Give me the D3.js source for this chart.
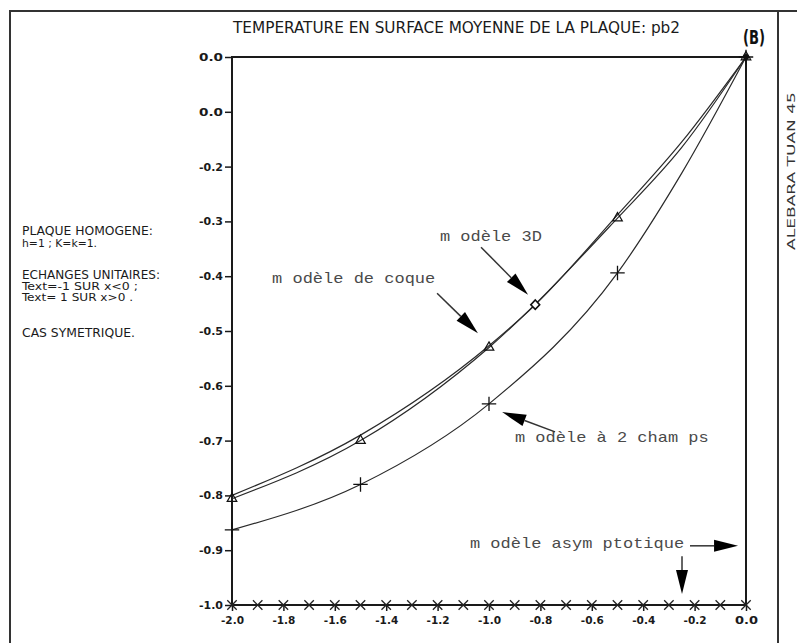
<!DOCTYPE html>
<html><head><meta charset="utf-8">
<script src="https://cdn.jsdelivr.net/npm/d3@7"></script>
<style>
html,body{margin:0;padding:0;background:#fff;}
svg{display:block;}
</style></head>
<body>
<script>
// ---------- data ----------
const title = "TEMPERATURE EN SURFACE MOYENNE DE LA PLAQUE: pb2";
const xTicks = [-2.0,-1.8,-1.6,-1.4,-1.2,-1.0,-0.8,-0.6,-0.4,-0.2,0.0];
const xTickLabels = ["-2.0","-1.8","-1.6","-1.4","-1.2","-1.0","-0.8","-0.6","-0.4","-0.2","0.0"];
const yTicks = [0.0,-0.1,-0.2,-0.3,-0.4,-0.5,-0.6,-0.7,-0.8,-0.9,-1.0];
const yTickLabels = ["0.0","0.0","-0.2","-0.3","-0.4","-0.5","-0.6","-0.7","-0.8","-0.9","-1.0"];

const x3D    = [-2.0, -1.5, -1.0, -0.82, -0.5, -0.25, 0.0];
const y3D    = [-0.800, -0.690, -0.527, -0.452, -0.288, -0.155, 0.0];
const marks3D = [-0.82];

const xCoque = [-2.0, -1.5, -1.0, -0.5, -0.25, 0.0];
const yCoque = [-0.806, -0.700, -0.530, -0.294, -0.165, 0.0];
const marksCoque = [-2.0, -1.5, -1.0, -0.5, 0.0];

const x2ch   = [-2.0, -1.5, -1.0, -0.5, -0.25, 0.0];
const y2ch   = [-0.863, -0.780, -0.633, -0.394, -0.212, 0.0];
const marks2ch = [-2.0, -1.5, -1.0, -0.5, 0.0];

const xAsym = [-2.0,-1.9,-1.8,-1.7,-1.6,-1.5,-1.4,-1.3,-1.2,-1.1,-1.0,-0.9,-0.8,-0.7,-0.6,-0.5,-0.4,-0.3,-0.2,-0.1,0.0];
const yAsym = [-1.0,-1.0,-1.0,-1.0,-1.0,-1.0,-1.0,-1.0,-1.0,-1.0,-1.0,-1.0,-1.0,-1.0,-1.0,-1.0,-1.0,-1.0,-1.0,-1.0,-1.0];

const noteTexts = ["m odèle 3D","m odèle de coque","m odèle à 2 cham ps","m odèle asym ptotique"];
const noteX = [-1.191, -1.844, -0.899, -1.074];
const noteY = [-0.336, -0.412, -0.703, -0.896];
// arrows: tail (x,y) -> tip (x,y) in data units
const arrowTail = [[-1.031,-0.347],[-1.202,-0.431],[-0.743,-0.684],[-0.218,-0.892],[-0.249,-0.911]];
const arrowTip  = [[-0.848,-0.434],[-1.043,-0.504],[-0.949,-0.648],[-0.031,-0.892],[-0.249,-0.980]];

const sideLines = ["PLAQUE HOMOGENE:","h=1 ; K=k=1.","ECHANGES UNITAIRES:","Text=-1 SUR x<0 ;","Text= 1 SUR x>0 .","CAS SYMETRIQUE."];
const sideBase = [235,247,279,290,301,337];
const sideW = [131,75,138,116,111,113];
const sideSize = [13,10,13,10,10,13];

// ---------- drawing ----------
const W=797,H=643;
const svg = d3.select("body").append("svg").attr("width",W).attr("height",H);
const x = d3.scaleLinear().domain([-2,0]).range([232,746]);
const y = d3.scaleLinear().domain([0,-1]).range([57,605]);
const narrow = "'Liberation Sans Narrow','DejaVu Sans Condensed','Arial Narrow',sans-serif";
const ink = "#1a1a1a";

// outer frame
svg.append("path").attr("d","M10,643 V11 H797 M778,11 V643")
  .attr("fill","none").attr("stroke","#333").attr("stroke-width",2);

// title
svg.append("text").attr("x",233).attr("y",33).text(title)
  .attr("font-family",narrow).attr("font-size",16).attr("fill",ink)
  .attr("textLength",447).attr("lengthAdjust","spacingAndGlyphs");

// symbol in corner
svg.append("text").attr("x",754).attr("y",44).attr("text-anchor","middle").text("(B)")
  .attr("font-family","'DejaVu Sans',sans-serif").attr("font-weight","bold").attr("font-size",20)
  .attr("fill","#111").attr("textLength",22).attr("lengthAdjust","spacingAndGlyphs");

// side rotated text
svg.append("text").attr("transform","translate(795,250) rotate(-90)").text("ALEBARA  TUAN  45")
  .attr("font-family",narrow).attr("font-size",10).attr("fill","#333")
  .attr("textLength",158).attr("lengthAdjust","spacingAndGlyphs");

// left description
svg.selectAll("text.side").data(sideLines).join("text").attr("class","side")
  .attr("x",22).attr("y",(d,i)=>sideBase[i]).text(d=>d)
  .attr("font-family",narrow).attr("font-size",(d,i)=>sideSize[i]).attr("fill",ink)
  .attr("textLength",(d,i)=>sideW[i]).attr("lengthAdjust","spacingAndGlyphs");

// plot box
svg.append("rect").attr("x",x(-2)).attr("y",y(0)).attr("width",x(0)-x(-2)).attr("height",y(-1)-y(0))
  .attr("fill","none").attr("stroke",ink).attr("stroke-width",2);

// axes
const gy = svg.append("g").attr("transform",`translate(${x(-2)},0)`)
  .call(d3.axisLeft(y).tickValues(yTicks).tickFormat((d,i)=>yTickLabels[i]).tickSize(7).tickPadding(2));
gy.select(".domain").remove();
gy.selectAll("line").attr("stroke",ink).attr("stroke-width",1.5);
gy.selectAll("text").attr("font-family",narrow).attr("font-weight","bold").attr("font-size",11).attr("fill",ink)
  .attr("textLength",24).attr("lengthAdjust","spacingAndGlyphs");

const gx = svg.append("g").attr("transform",`translate(0,${y(-1)})`)
  .call(d3.axisBottom(x).tickValues(xTicks).tickFormat((d,i)=>xTickLabels[i]).tickSize(6).tickPadding(5));
gx.select(".domain").remove();
gx.selectAll("line").attr("stroke",ink).attr("stroke-width",1.5);
gx.selectAll("text").attr("font-family",narrow).attr("font-weight","bold").attr("font-size",11).attr("fill",ink)
  .attr("textLength",23).attr("lengthAdjust","spacingAndGlyphs");

// curves
const line = d3.line().x(d=>x(d[0])).y(d=>y(d[1])).curve(d3.curveMonotoneX);
const series = [
  {xs:x3D, ys:y3D},
  {xs:xCoque, ys:yCoque},
  {xs:x2ch, ys:y2ch}
];
svg.selectAll("path.curve").data(series).join("path").attr("class","curve")
  .attr("d",s=>line(s.xs.map((v,i)=>[v,s.ys[i]])))
  .attr("fill","none").attr("stroke","#2a2a2a").attr("stroke-width",1.2);

function valAt(xs,ys,v){const i=xs.indexOf(v);return ys[i];}

// markers: coque triangles
svg.selectAll("path.tri").data(marksCoque).join("path").attr("class","tri")
  .attr("transform",d=>`translate(${x(d)},${y(valAt(xCoque,yCoque,d))})`)
  .attr("d",d3.symbol(d3.symbolTriangle,40)())
  .attr("fill","none").attr("stroke","#111").attr("stroke-width",1.2);

// 3D diamond
svg.selectAll("path.dia").data(marks3D).join("path").attr("class","dia")
  .attr("transform",d=>`translate(${x(d)},${y(valAt(x3D,y3D,d))}) scale(1.3,0.8)`)
  .attr("d",d3.symbol(d3.symbolDiamond,40)())
  .attr("fill","#fff").attr("stroke","#111").attr("stroke-width",1.5);

// 2 champs plus
const plusSym = d3.symbolPlus || d3.symbolCross;
svg.selectAll("path.plus").data(marks2ch).join("path").attr("class","plus")
  .attr("transform",d=>`translate(${x(d)},${y(valAt(x2ch,y2ch,d))})`)
  .attr("d",d3.symbol(plusSym,70)())
  .attr("fill","none").attr("stroke","#111").attr("stroke-width",1.3);

// asymptotic X markers
const timesSym = d3.symbolTimes || d3.symbolX;
svg.selectAll("path.asym").data(xAsym).join("path").attr("class","asym")
  .attr("transform",(d,i)=>`translate(${x(d)},${y(yAsym[i])})`)
  .attr("d",d3.symbol(timesSym,60)())
  .attr("fill","none").attr("stroke","#222").attr("stroke-width",1.3);

// blob at origin
svg.append("circle").attr("cx",x(0)).attr("cy",y(0)).attr("r",3).attr("fill","#111");

// annotations
svg.selectAll("text.note").data(noteTexts).join("text").attr("class","note")
  .attr("x",(d,i)=>x(noteX[i])).attr("y",(d,i)=>y(noteY[i])).text(d=>d)
  .attr("font-family","'Liberation Mono','DejaVu Sans Mono',monospace").attr("font-size",15)
  .attr("fill","#4a4a4a").attr("textLength",(d)=>d.length*10.2).attr("lengthAdjust","spacingAndGlyphs");

// arrows
const headLen=24, headW=6;
arrowTail.forEach((t,i)=>{
  const x1=x(t[0]),y1=y(t[1]),x2=x(arrowTip[i][0]),y2=y(arrowTip[i][1]);
  const dx=x2-x1, dy=y2-y1, L=Math.hypot(dx,dy), ux=dx/L, uy=dy/L;
  const bx=x2-ux*headLen, by=y2-uy*headLen;
  svg.append("line").attr("x1",x1).attr("y1",y1).attr("x2",bx).attr("y2",by)
    .attr("stroke","#333").attr("stroke-width",1.5);
  svg.append("path").attr("d",`M${x2},${y2} L${bx-uy*headW},${by+ux*headW} L${bx+uy*headW},${by-ux*headW} Z`)
    .attr("fill","#000");
});
</script>
</body></html>
